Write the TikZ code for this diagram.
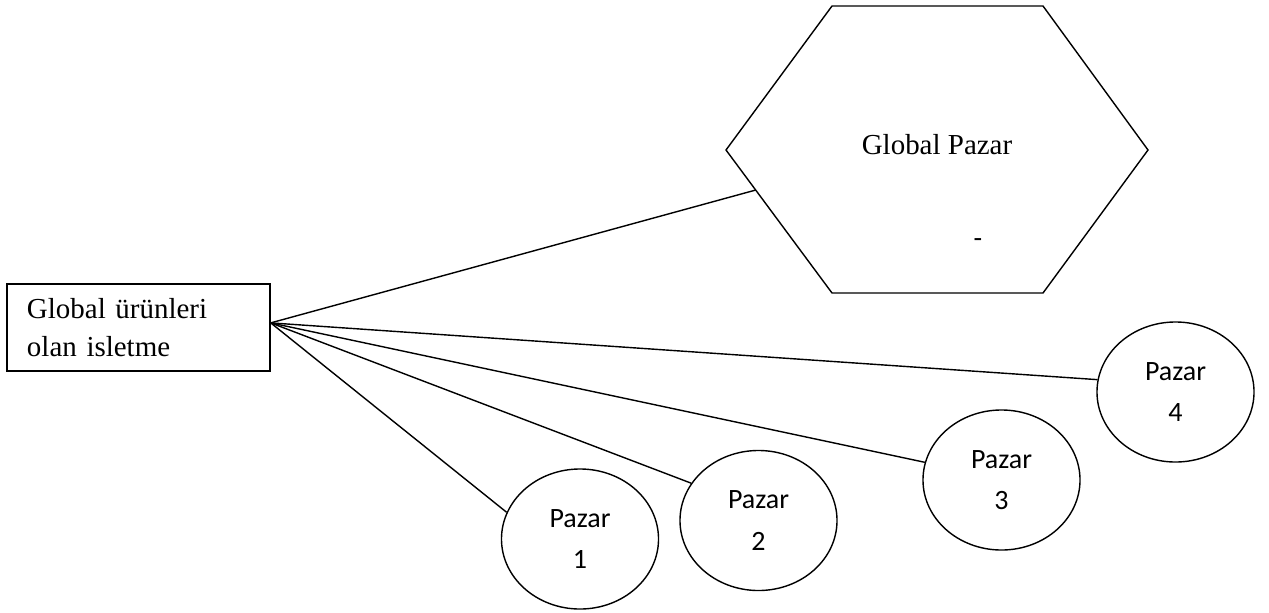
\documentclass[tikz,border=0pt]{standalone}
\usepackage{fontspec}
\setmainfont{Liberation Serif}
\newfontfamily\calibrifont{Carlito}
\usetikzlibrary{calc,shapes.geometric}

\begin{document}
\begin{tikzpicture}[x=0.025cm, y=-0.025cm, line width=1pt,
  firmbox/.style={draw, rectangle, minimum width=6.575cm, minimum height=2.175cm, inner xsep=0.5cm, text width=5.575cm, align=left, font=\fontsize{20.6}{27}\selectfont},
  pazar/.style={draw, ellipse, minimum width=3.925cm, minimum height=3.5cm, inner sep=0pt, align=center, font=\calibrifont\fontsize{19.9}{29.2}\selectfont}]
\useasboundingbox (0,0) rectangle (1269,612);
\node[firmbox] (firma) at (138.5,327.5) {Global ürünleri\\olan isletme};
\coordinate (htl) at (832,6);
\coordinate (htr) at (1043,6);
\coordinate (hr) at (1148,150);
\coordinate (hbr) at (1043,293);
\coordinate (hbl) at (832,293);
\coordinate (hl) at (726,150);
\draw (htl) -- (htr) -- (hr) -- (hbr) -- (hbl) -- (hl) -- cycle;
\node[font=\fontsize{20.6}{27}\selectfont] (global) at (937,145) {Global Pazar};
\node[inner sep=0pt, font=\calibrifont\fontsize{19.9}{29.2}\selectfont] (tire) at (978,243) {-};
\coordinate (hx) at ($(hl)!0.28!(hbl)$);
\node[pazar] (p1) at (580,539) {Pazar\\1};
\node[pazar] (p2) at (758.5,520.5) {Pazar\\2};
\node[pazar] (p3) at (1001.5,480) {Pazar\\3};
\node[pazar] (p4) at (1175.5,392) {Pazar\\4};
\draw (firma.2) -- (hx);
\draw (firma.2) -- (p4.171);
\draw (firma.2) -- (p3.167);
\draw (firma.2) -- (p2.151);
\draw (firma.2) -- (p1.160);
\end{tikzpicture}
\end{document}
